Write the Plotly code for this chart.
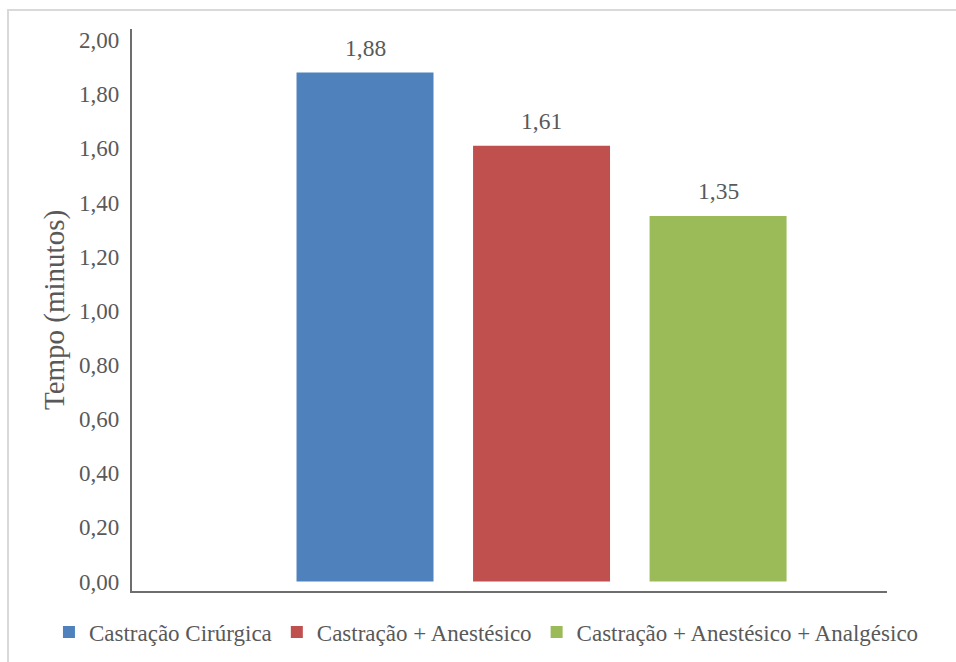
import plotly.graph_objects as go

categories = ["Castração Cirúrgica", "Castração + Anestésico", "Castração + Anestésico + Analgésico"]
values = [1.88, 1.61, 1.35]
labels = ["1,88", "1,61", "1,35"]
colors = ["#4F81BD", "#C0504D", "#9BBB59"]
tick_vals = [0, 0.2, 0.4, 0.6, 0.8, 1.0, 1.2, 1.4, 1.6, 1.8, 2.0]
tick_text = ["0,00", "0,20", "0,40", "0,60", "0,80", "1,00", "1,20", "1,40", "1,60", "1,80", "2,00"]

FONT = "Liberation Serif, Times New Roman, serif"
TXT = "#595959"
AX = "#6e6e6e"

fig = go.Figure()
for cat, val, col in zip(categories, values, colors):
    fig.add_trace(go.Bar(x=[cat], y=[val], name=cat, marker=dict(color=col, line=dict(width=0)),
                         width=0.776, showlegend=True))

for cat, val, lab in zip(categories, values, labels):
    fig.add_annotation(x=cat, y=val, text=lab, showarrow=False, yanchor="middle", yshift=25,
                       font=dict(family=FONT, size=23.5, color=TXT))

fig.add_shape(type="rect", xref="paper", yref="paper", x0=-0.1642, x1=1.3, y0=-0.3, y1=1.0338,
              line=dict(color="#d9d9d9", width=2), fillcolor="rgba(0,0,0,0)", layer="below")

fig.update_layout(
    width=956, height=662,
    margin=dict(l=132, r=69, t=29, b=71, autoexpand=False),
    paper_bgcolor="white", plot_bgcolor="white",
    font=dict(family=FONT, size=23, color=TXT),
    legend=dict(orientation="h", x=-0.110, xanchor="left", y=-0.073, yanchor="middle",
                font=dict(family=FONT, size=23, color=TXT), itemwidth=30,
                traceorder="normal"),
    xaxis=dict(type="category", range=[-1.32, 2.957], showticklabels=False, showgrid=False,
               zeroline=False, showline=True, linecolor=AX, linewidth=2.25, ticks=""),
    yaxis=dict(range=[-0.035, 2.041], tickvals=tick_vals, ticktext=tick_text, showgrid=False,
               zeroline=False, showline=True, linecolor=AX, linewidth=2.25,
               ticks="outside", ticklen=6, tickcolor="rgba(0,0,0,0)",
               tickfont=dict(family=FONT, size=23, color=TXT),
               title=dict(text="Tempo (minutos)", font=dict(family=FONT, size=29, color=TXT), standoff=6)),
)

fig.write_html("out.html")
